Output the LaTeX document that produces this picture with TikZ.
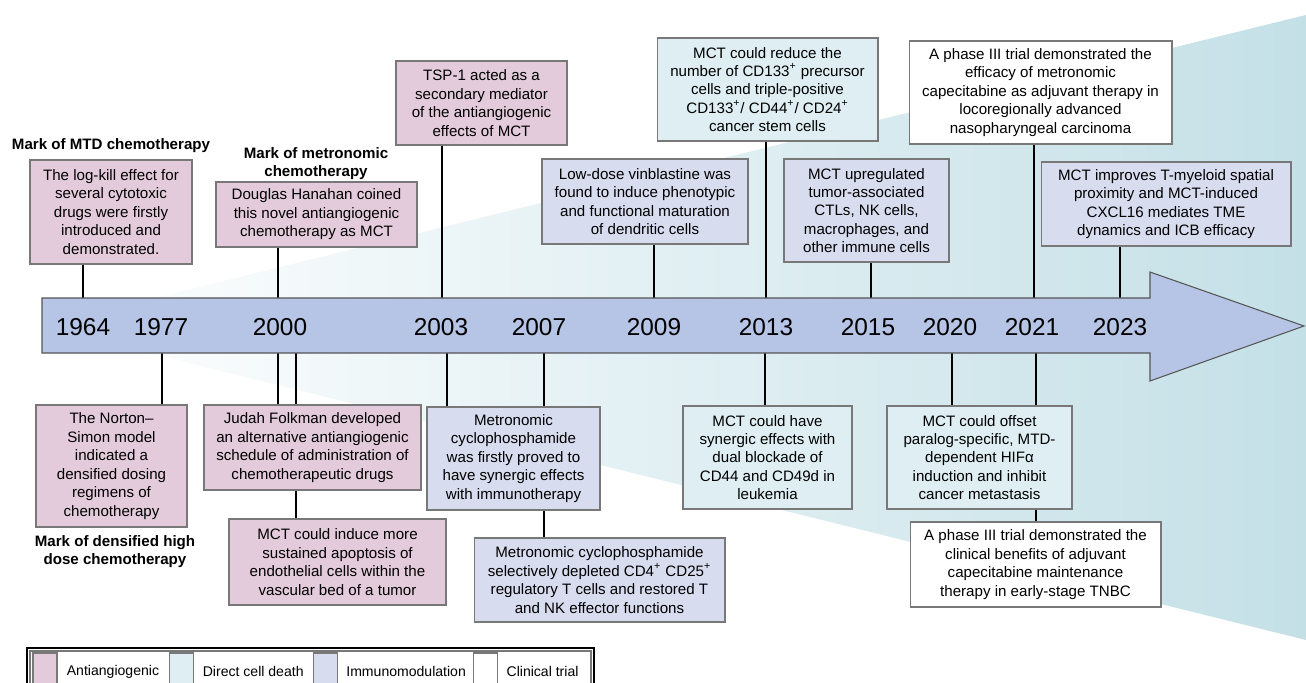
\documentclass[tikz,border=0pt]{standalone}
\usepackage{fontspec}
\setmainfont{Liberation Sans}
\usetikzlibrary{positioning}

\definecolor{antipink}{RGB}{228,203,220}
\definecolor{deathblue}{RGB}{222,238,243}
\definecolor{immunelav}{RGB}{215,220,239}
\definecolor{wedgeblue}{RGB}{196,224,231}
\definecolor{arrowfill}{RGB}{182,196,229}
\definecolor{arrowline}{RGB}{85,85,85}
\definecolor{boxline}{RGB}{120,120,120}

\pgfdeclarelayer{wedge}
\pgfdeclarelayer{links}
\pgfsetlayers{wedge,links,main}

\begin{document}
\begin{tikzpicture}[
    x=0.02cm, y=-0.02cm,
    box/.style={draw=boxline, line width=0.6pt, align=center, inner sep=0pt, font=\fontsize{8.6}{10.5}\selectfont},
    anti/.style={box, fill=antipink},
    death/.style={box, fill=deathblue},
    immune/.style={box, fill=immunelav},
    trial/.style={box, fill=white},
    boxsize/.style 2 args={minimum width=#1cm, minimum height=#2cm},
    year/.style={font=\fontsize{13.9}{16}\selectfont, inner sep=0pt},
    marklabel/.style={font=\fontsize{8.6}{10.3}\selectfont\bfseries, align=center},
    link/.style={line width=0.8pt},
    swatch/.style={draw=boxline, line width=0.6pt, minimum width=0.48cm, minimum height=0.74cm, inner sep=0pt},
    legtext/.style={font=\fontsize{8}{9.6}\selectfont, inner sep=0pt},
]

\useasboundingbox (0,0) rectangle (1306,683);

% Background wedge
\begin{pgfonlayer}{wedge}
\shade[left color=white, middle color=wedgeblue!85, right color=wedgeblue] (40,326) -- (1306,15) -- (1306,640) -- cycle;
\end{pgfonlayer}

% Timeline arrow
\draw[draw=arrowline, fill=arrowfill, line width=0.6pt] (42,298) -- (1150,298) -- (1150,272) -- (1304,326) -- (1150,381) -- (1150,353) -- (42,353) -- cycle;
\coordinate (axtop) at (42,298);
\coordinate (axbot) at (42,353);

% Years
\foreach \yr/\x in {1964/83, 1977/161, 2000/280, 2003/441, 2007/539, 2009/654, 2013/766, 2015/868, 2020/950, 2021/1032, 2023/1120}
    \node[year] (y\yr) at (\x,327) {\yr};

% Marks
\node[marklabel] (mtd) at (111,146) {Mark of MTD chemotherapy};
\node[marklabel] (metro) at (316,164) {Mark of metronomic\\chemotherapy};
\node[marklabel] (dense) at (115,552) {Mark of densified high\\dose chemotherapy};

% Events above the timeline
\node[anti, boxsize={3.24}{2.08}] (logkill) at (111,212) {The log-kill effect for\\several cytotoxic\\drugs were firstly\\introduced and\\demonstrated.};
\node[anti, boxsize={4.02}{1.30}] (hanahan) at (316.5,214.5) {Douglas Hanahan coined\\this novel antiangiogenic\\chemotherapy as MCT};
\node[anti, boxsize={3.42}{1.68}] (tsp) at (481.5,103) {TSP-1 acted as a\\secondary mediator\\of the antiangiogenic\\effects of MCT};
\node[immune, boxsize={4.12}{1.70}] (vinbl) at (645,201.5) {Low-dose vinblastine was\\found to induce phenotypic\\and functional maturation\\of dendritic cells};
\node[death, boxsize={4.42}{2.06}] (cdred) at (767.5,89.5) {MCT could reduce the\\number of CD133\textsuperscript{+} precursor\\cells and triple-positive\\CD133\textsuperscript{+}/ CD44\textsuperscript{+}/ CD24\textsuperscript{+}\\cancer stem cells};
\node[immune, boxsize={3.30}{2.06}] (upreg) at (866.5,210.5) {MCT upregulated\\tumor-associated\\CTLs, NK cells,\\macrophages, and\\other immune cells};
\node[trial, boxsize={5.26}{2.06}] (naso) at (1040.5,92.5) {A phase III trial demonstrated the\\efficacy of metronomic\\capecitabine as adjuvant therapy in\\locoregionally advanced\\nasopharyngeal carcinoma};
\node[immune, boxsize={5.00}{1.68}] (improv) at (1166,204) {MCT improves T-myeloid spatial\\proximity and MCT-induced\\CXCL16 mediates TME\\dynamics and ICB efficacy};

% Events below the timeline
\node[anti, boxsize={3.02}{2.44}] (norton) at (111.5,466) {The Norton--\\Simon model\\indicated a\\densified dosing\\regimens of\\chemotherapy};
\node[anti, boxsize={4.34}{1.70}] (folkman) at (312.5,447.5) {Judah Folkman developed\\an alternative antiangiogenic\\schedule of administration of\\chemotherapeutic drugs};
\node[anti, boxsize={4.34}{1.72}] (induce) at (337.5,562) {MCT could induce more\\sustained apoptosis of\\endothelial cells within the\\vascular bed of a tumor};
\node[immune, boxsize={3.46}{2.06}] (synimm) at (513.5,458.5) {Metronomic\\cyclophosphamide\\was firstly proved to\\have synergic effects\\with immunotherapy};
\node[immune, boxsize={5.02}{1.68}] (treg) at (599.5,580) {Metronomic cyclophosphamide\\selectively depleted CD4\textsuperscript{+} CD25\textsuperscript{+}\\regulatory T cells and restored T\\and NK effector functions};
\node[death, boxsize={3.38}{2.06}] (dualblk) at (767.5,457.5) {MCT could have\\synergic effects with\\dual blockade of\\CD44 and CD49d in\\leukemia};
\node[death, boxsize={3.70}{2.06}] (offset) at (979.5,457.5) {MCT could offset\\paralog-specific, MTD-\\dependent HIFα\\induction and inhibit\\cancer metastasis};
\node[trial, boxsize={5.02}{1.70}] (tnbc) at (1035.5,564.5) {A phase III trial demonstrated the\\clinical benefits of adjuvant\\capecitabine maintenance\\therapy in early-stage TNBC};

% Connectors (behind the boxes)
\begin{pgfonlayer}{links}
\foreach \x/\b in {83/logkill, 278/hanahan, 442/tsp, 654/vinbl, 766/cdred, 871/upreg, 1034/naso, 1120/improv}
    \draw[link] (\x,0 |- axtop) -- (\x,0 |- \b.south);
\foreach \x/\b in {162/norton, 278/folkman, 296/induce, 447/synimm, 544/treg, 765/dualblk, 952/offset, 1036/tnbc}
    \draw[link] (\x,0 |- axbot) -- (\x,0 |- \b.north);
\end{pgfonlayer}

% Legend
\draw[line width=0.8pt] (27,648) rectangle (594,700);
\draw[draw=boxline, line width=0.6pt] (30,651) rectangle (591,700);
\node[swatch, fill=antipink] (swanti) at (45,671.5) {};
\node[legtext, right=0.18cm of swanti] (lganti) {Antiangiogenic};
\node[swatch, fill=deathblue, right=0.2cm of lganti] (swdeath) {};
\node[legtext, right=0.16cm of swdeath] (lgdeath) {Direct cell death};
\node[swatch, fill=immunelav, right=0.18cm of lgdeath] (swimmune) {};
\node[legtext, right=0.16cm of swimmune] (lgimmune) {Immunomodulation};
\node[swatch, fill=white, right=0.14cm of lgimmune] (swtrial) {};
\node[legtext, right=0.16cm of swtrial] (lgtrial) {Clinical trial};

\end{tikzpicture}
\end{document}
